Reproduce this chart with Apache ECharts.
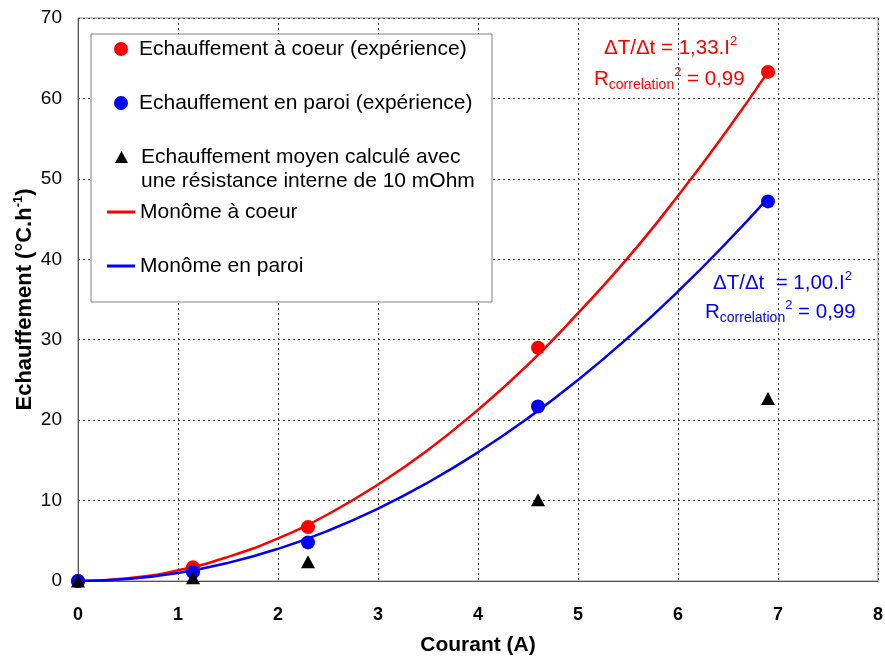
<!DOCTYPE html>
<html>
<head>
<meta charset="utf-8">
<script src="https://cdn.jsdelivr.net/npm/echarts@6/dist/echarts.min.js"></script>
<style>
  html, body { margin: 0; padding: 0; background: #fff; }
  #chart { width: 885px; height: 659px; }
</style>
</head>
<body>
<div id="chart"></div>
<script>
// courant mesuré (A)
var currentA = [0, 1.15, 2.3, 4.6, 6.9];
var coeurExp = [0, 1.7, 6.7, 29.0, 63.3];
var paroiExp = [0, 1.1, 4.8, 21.7, 47.2];
var moyenCalc = [0, 0.4, 2.4, 10.1, 22.7];

// monômes
var fitX = [0, 0.5, 1, 1.5, 2, 2.5, 3, 3.5, 4, 4.5, 5, 5.5, 6, 6.5, 6.9];
var fitCoeur = [0, 0.33, 1.33, 3.0, 5.3, 8.3, 12.0, 16.3, 21.3, 26.9, 33.3, 40.2, 47.9, 56.2, 63.3];
var fitParoi = [0, 0.25, 1.0, 2.25, 4.0, 6.25, 9.0, 12.25, 16.0, 20.25, 25.0, 30.25, 36.0, 42.25, 47.6];

var xTicks = [0, 1, 2, 3, 4, 5, 6, 7, 8];
var yTicks = [0, 10, 20, 30, 40, 50, 60, 70];

var names = [
  'Echauffement à coeur (expérience)',
  'Echauffement en paroi (expérience)',
  'Echauffement moyen calculé avec\nune résistance interne de 10 mOhm',
  'Monôme à coeur',
  'Monôme en paroi'
];

function pairs(xs, ys) {
  return xs.map(function (x, i) { return [x, ys[i]]; });
}

var font = 'Liberation Sans, Arial, sans-serif';
var RED = '#ff0000', BLUE = '#0000ff';

var chart = echarts.init(document.getElementById('chart'));

function legendOne(name, icon, left, top, w, h, padLeft, extra) {
  var lg = {
    data: [{ name: name, icon: icon }],
    left: left, top: top, padding: 0,
    itemWidth: w, itemHeight: h,
    selectedMode: false,
    textStyle: { fontFamily: font, fontSize: 21, color: '#000', lineHeight: 24, padding: [0, 0, 0, padLeft] },
    z: 5
  };
  return Object.assign(lg, extra || {});
}

var annRich = {
  m: { fontSize: 20.5, fontFamily: font, lineHeight: 26 },
  sub: { fontSize: 14, fontFamily: font, verticalAlign: 'bottom', lineHeight: 14 },
  sup: { fontSize: 13, fontFamily: font, verticalAlign: 'top', lineHeight: 14 }
};

function ann(x, y, text, color) {
  return {
    type: 'text', x: x, y: y, z: 10,
    style: {
      text: text, fill: color, rich: annRich,
      align: 'left', verticalAlign: 'middle', font: '20px ' + font
    }
  };
}

var option = {
  backgroundColor: '#fff',
  animation: false,
  grid: {
    left: 78, right: 7, top: 18, bottom: 78,
    outerBoundsMode: 'none', containLabel: false,
    show: true, borderColor: '#888', borderWidth: 1
  },
  xAxis: {
    type: 'value', min: 0, max: 8, interval: 1,
    name: 'Courant (A)', nameLocation: 'middle', nameGap: 54,
    nameMoveOverlap: false,
    nameTextStyle: { fontFamily: font, fontSize: 21, fontWeight: 'bold', color: '#000' },
    axisLine: { show: true, lineStyle: { color: '#555', width: 1 } },
    axisTick: { show: false },
    axisLabel: { fontFamily: font, fontSize: 18, fontWeight: 'bold', color: '#000', margin: 25,
      formatter: function (v) { return xTicks.indexOf(v) >= 0 ? String(v) : ''; } },
    splitLine: { show: true, lineStyle: { color: '#444', type: [2, 3], width: 1 } }
  },
  yAxis: {
    type: 'value', min: 0, max: 70, interval: 10,
    name: '{a|Echauffement (°C.h}{s|-1}{a|)}', nameLocation: 'middle', nameGap: 40,
    nameMoveOverlap: false,
    nameTextStyle: {
      rich: {
        a: { fontFamily: font, fontSize: 22, fontWeight: 'bold', color: '#000', lineHeight: 26 },
        s: { fontFamily: font, fontSize: 13, fontWeight: 'bold', color: '#000', verticalAlign: 'top', lineHeight: 14 }
      }
    },
    axisLine: { show: true, lineStyle: { color: '#555', width: 1 } },
    axisTick: { show: false },
    axisLabel: { fontFamily: font, fontSize: 19, color: '#000', margin: 16,
      formatter: function (v) { return yTicks.indexOf(v) >= 0 ? String(v) : ''; } },
    splitLine: { show: true, lineStyle: { color: '#444', type: [2, 3], width: 1 } }
  },
  legend: [
    legendOne(names[0], 'circle', 114, 37, 14, 14, 6),
    legendOne(names[1], 'circle', 114, 91, 14, 14, 6),
    legendOne(names[2], 'triangle', 115, 121, 13, 12, 8, {
      formatter: function (n) { return '\n' + n; }
    }),
    legendOne(names[3], 'rect', 107, 200, 28, 3, 0),
    legendOne(names[4], 'rect', 107, 254, 28, 3, 0)
  ],
  graphic: [
    { type: 'rect', shape: { x: 91, y: 34, width: 401, height: 268 }, z: 1,
      style: { fill: '#fff', stroke: '#808080', lineWidth: 1 } },
    ann(604, 48, '{m|ΔT/Δt = 1,33.I}{sup|2}', RED),
    ann(594, 79, '{m|R}{sub|correlation}{sup|2}{m| = 0,99}', RED),
    ann(713, 283, '{m|ΔT/Δt  = 1,00.I}{sup|2}', BLUE),
    ann(705, 312, '{m|R}{sub|correlation}{sup|2}{m| = 0,99}', BLUE)
  ],
  series: [
    {
      name: names[3], type: 'line', data: pairs(fitX, fitCoeur), smooth: true,
      showSymbol: false, symbol: 'none', z: 2,
      lineStyle: { color: RED, width: 2.5 }, itemStyle: { color: RED }
    },
    {
      name: names[4], type: 'line', data: pairs(fitX, fitParoi), smooth: true,
      showSymbol: false, symbol: 'none', z: 2,
      lineStyle: { color: BLUE, width: 2.5 }, itemStyle: { color: BLUE }
    },
    {
      name: names[0], type: 'scatter', data: pairs(currentA, coeurExp),
      symbol: 'circle', symbolSize: 14, itemStyle: { color: RED, opacity: 1 }, z: 3
    },
    {
      name: names[1], type: 'scatter', data: pairs(currentA, paroiExp),
      symbol: 'circle', symbolSize: 14, itemStyle: { color: BLUE, opacity: 1 }, z: 3
    },
    {
      name: names[2], type: 'scatter', data: pairs(currentA, moyenCalc),
      symbol: 'triangle', symbolSize: [14, 13], itemStyle: { color: '#000', opacity: 1 }, z: 4
    }
  ]
};

chart.setOption(option);
</script>
</body>
</html>
